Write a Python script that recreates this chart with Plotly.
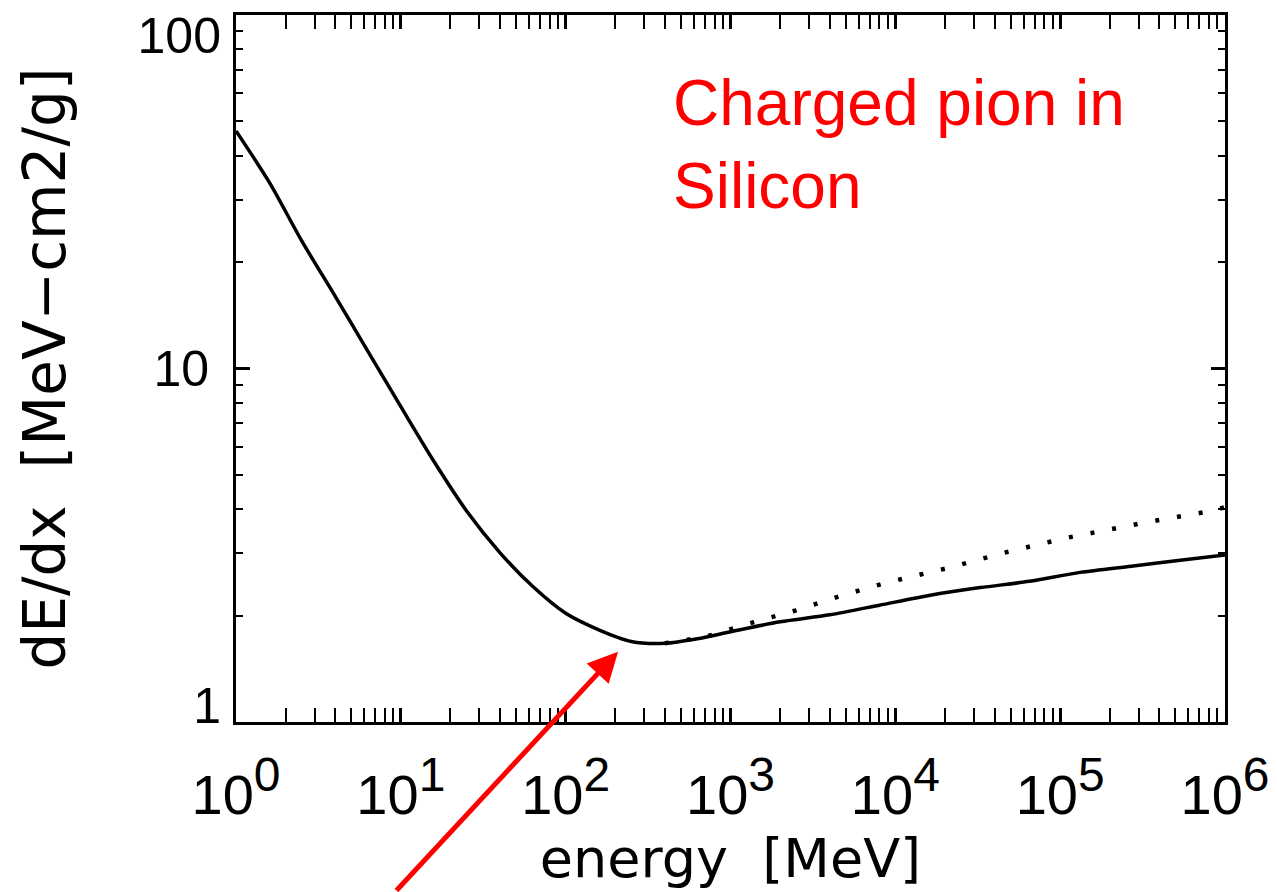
import plotly.graph_objects as go

# Stopping power of a charged pion in silicon (kinetic energy in MeV)
energy_full = [1, 1.6, 2.5, 4, 6.3, 10, 16, 25, 40, 63, 100, 160, 250, 400, 630,
               1000, 2000, 4000, 8000, 16000, 32700, 65000, 132000, 270000, 535000,
               1000000]
dedx_full = [47.0, 33.5, 23.0, 16.0, 11.2, 7.8, 5.43, 3.96, 3.01, 2.42, 2.03, 1.82,
             1.69, 1.67, 1.72, 1.80, 1.92, 2.01, 2.14, 2.28, 2.40, 2.50, 2.65, 2.76,
             2.87, 2.97]

# Same curve without the density-effect correction (relativistic rise)
energy_nodens = [400, 700, 1300, 2500, 4600, 8600, 21000, 48000, 110000, 320000,
                 770000, 1000000]
dedx_nodens = [1.67, 1.74, 1.90, 2.07, 2.27, 2.47, 2.73, 3.03, 3.32, 3.66, 3.93, 4.05]

x_tickvals = [1, 10, 100, 1000, 10000, 100000, 1000000]
x_exponents = ["0", "1", "2", "3", "4", "5", "6"]
x_ticktext = ["10<sup><span style='font-size:48px'>%s</span></sup>" % e
              for e in x_exponents]
y_tickvals = [1, 10, 100]
y_ticktext = ["1", "10", "100"]

label_text = "Charged pion in<br>Silicon"

fig = go.Figure()
fig.add_trace(go.Scatter(x=energy_nodens, y=dedx_nodens, mode="lines",
                         line=dict(color="black", width=4.5, dash="4px,18px"),
                         showlegend=False, hoverinfo="skip"))
fig.add_trace(go.Scatter(x=energy_full, y=dedx_full, mode="lines",
                         line=dict(color="black", width=3.5, shape="spline",
                                   smoothing=0.8),
                         showlegend=False, hoverinfo="skip"))
# transparent copies so the label-only y axes get drawn
for ax_name in ("y2", "y3"):
    fig.add_trace(go.Scatter(x=energy_full, y=dedx_full, yaxis=ax_name, mode="lines",
                             line=dict(width=0), opacity=0,
                             showlegend=False, hoverinfo="skip"))

axis_common = dict(
    showline=True, linecolor="black", linewidth=3, mirror="allticks",
    ticks="inside", ticklen=14, tickwidth=3, tickcolor="black",
    showgrid=False, zeroline=False, automargin=False,
    minor=dict(ticks="inside", ticklen=7, tickwidth=2, tickcolor="black",
               dtick="D1", showgrid=False),
)
ytick_font = dict(family="Liberation Sans", size=50, color="black")

fig.update_layout(
    xaxis=dict(type="log", range=[0, 6], tickmode="array",
               tickvals=x_tickvals, ticktext=x_ticktext,
               ticklabelstandoff=22,
               tickfont=dict(family="Liberation Sans", size=56, color="black"),
               title=dict(text="energy  [MeV]", standoff=14,
                          font=dict(family="DejaVu Sans", size=54, color="black")),
               **axis_common),
    # main y axis: frame, ticks, the middle label and the title
    yaxis=dict(type="log", range=[0, 2], tickmode="array",
               tickvals=y_tickvals, ticktext=["", y_ticktext[1], ""],
               ticklabelstandoff=14, tickfont=ytick_font,
               title=dict(text="dE/dx  [MeV\u2212cm2/g]", standoff=70,
                          font=dict(family="DejaVu Sans", size=58, color="black")),
               **axis_common),
)

# end labels of the y axis are nudged inside the frame
label_axis = dict(type="log", range=[0, 2], overlaying="y", anchor="x", side="left",
                  tickmode="array", ticks="", showline=False, showgrid=False,
                  zeroline=False, automargin=False, ticklabelstandoff=14,
                  ticklabeloverflow="allow", tickfont=ytick_font)
fig.update_layout(
    yaxis2=dict(tickvals=[y_tickvals[2]], ticktext=[y_ticktext[2]],
                ticklabelshift=20, **label_axis),
    yaxis3=dict(tickvals=[y_tickvals[0]], ticktext=[y_ticktext[0]],
                ticklabelshift=-17, **label_axis),
)

fig.add_annotation(text=label_text, xref="paper", yref="paper", x=0.440, y=0.929,
                   xanchor="left", yanchor="top", align="left", showarrow=False,
                   font=dict(family="Liberation Sans", size=64, color="#ff0000"))

fig.add_annotation(x=2.318, y=0.199, xref="x", yref="y", text="",
                   showarrow=True, arrowhead=2, arrowsize=1.2, arrowwidth=5,
                   arrowcolor="#ff0000", ax=-223, ay=242, standoff=0)

fig.update_layout(width=1277, height=892, plot_bgcolor="white", paper_bgcolor="white",
                  margin=dict(l=236, r=52, t=15, b=170))

fig.write_html("out.html")
